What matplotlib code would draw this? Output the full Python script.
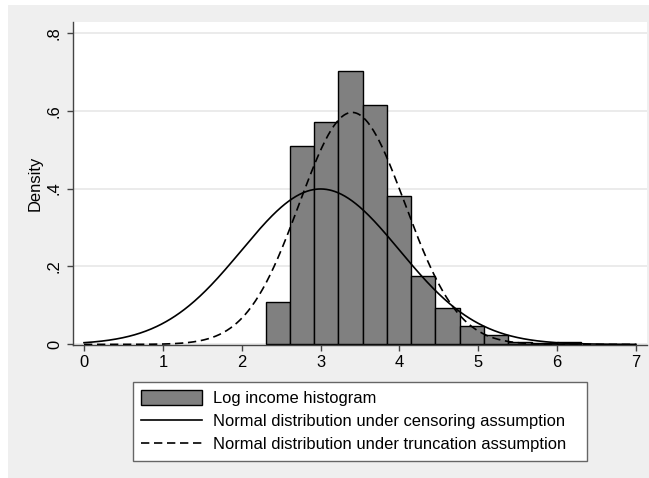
import numpy as np
import matplotlib
matplotlib.use("Agg")
import matplotlib.pyplot as plt

plt.rcParams['font.family'] = ['Liberation Sans', 'DejaVu Sans']

# ---- data ----
bin_edges = [2.304, 2.611, 2.919, 3.226, 3.534, 3.841, 4.148, 4.456,
             4.763, 5.071, 5.378, 5.685, 5.993, 6.300]
bar_heights = [0.110, 0.509, 0.572, 0.702, 0.614, 0.381, 0.175, 0.094,
               0.048, 0.024, 0.006, 0.003, 0.006]
censor_mu, censor_sigma = 3.0, 1.0
trunc_mu, trunc_sigma = 3.40, 0.67
x_ticks = [0, 1, 2, 3, 4, 5, 6, 7]
y_ticks = [0, 0.2, 0.4, 0.6, 0.8]
y_tick_labels = ['0', '.2', '.4', '.6', '.8']
labels = ['Log income histogram',
          'Normal distribution under censoring assumption',
          'Normal distribution under truncation assumption']


def normal_pdf(x, mu, sigma):
    return np.exp(-0.5 * ((x - mu) / sigma) ** 2) / (sigma * np.sqrt(2 * np.pi))


W, H = 649, 478
FS = 11.9
fig = plt.figure(figsize=(W / 100, H / 100), dpi=100)
fig.patch.set_facecolor('white')
# gray graph region (white border top/left)
fig.patches.append(plt.Rectangle((8 / W, 0), 1 - 8 / W, 1 - 5 / H,
                                 transform=fig.transFigure, facecolor='#efefef',
                                 edgecolor='none', zorder=-10))

ax = fig.add_axes([73 / W, (H - 345) / H, (647 - 73) / W, (345 - 22) / H])
ax.set_facecolor('white')

edges = np.array(bin_edges)
bars = ax.bar(edges[:-1], bar_heights, width=np.diff(edges), align='edge',
              color='#808080', edgecolor='black', linewidth=1.0, zorder=2)

xs = np.linspace(0, 7, 600)
l1, = ax.plot(xs, normal_pdf(xs, censor_mu, censor_sigma), color='black', lw=1.2,
              zorder=3)
l2, = ax.plot(xs, normal_pdf(xs, trunc_mu, trunc_sigma), color='black', lw=1.2,
              linestyle=(0, (5.0, 2.8)), zorder=3)

ax.set_xlim(-0.1395, 7.1395)
ax.set_ylim(-0.0015, 0.8275)
ax.set_xticks(x_ticks)
ax.set_yticks(y_ticks)
ax.set_yticklabels(y_tick_labels, rotation=90, va='center')
ax.grid(axis='y', color='#e8e8e8', linewidth=1.2, zorder=0)
ax.set_axisbelow(True)

for s in ['top', 'right']:
    ax.spines[s].set_visible(False)
for s in ['left', 'bottom']:
    ax.spines[s].set_color('#444444')
    ax.spines[s].set_linewidth(1.0)

ax.tick_params(axis='both', direction='out', length=4.5, width=1.0,
               color='#444444', labelsize=FS, labelcolor='black')
ax.tick_params(axis='x', pad=3)
ax.tick_params(axis='y', pad=3.5)
ax.set_ylabel('Density', fontsize=FS, labelpad=3)

leg = fig.legend([bars, l1, l2], labels, loc='upper left',
                 bbox_to_anchor=(133 / W, (H - 382) / H, (587 - 133) / W, 0),
                 mode='expand', fontsize=FS, frameon=True, fancybox=False,
                 edgecolor='#666666', facecolor='white', framealpha=1,
                 borderpad=0.5, labelspacing=0.42, handlelength=3.7,
                 handleheight=1.0, handletextpad=0.65, borderaxespad=0)
leg.get_frame().set_linewidth(1.0)

fig.savefig('out.png', dpi=100, facecolor=fig.get_facecolor())
